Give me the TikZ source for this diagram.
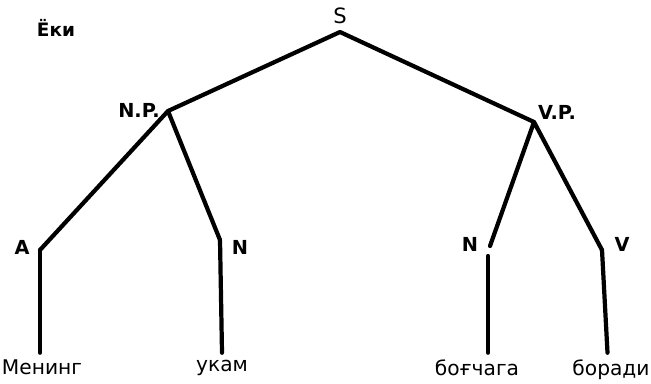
\documentclass[tikz,border=0pt]{standalone}
\usepackage{fontspec}
\setmainfont{DejaVu Sans}
\usetikzlibrary{positioning}

\begin{document}
\begin{tikzpicture}[
        x=0.02cm, y=-0.02cm,
        branch/.style = {draw, line width=2.4pt, line join=round, line cap=round},
        cat_label/.style = {font=\bfseries\fontsize{11}{13}\selectfont, inner sep=1pt},
        word/.style = {font=\fontsize{11.5}{14}\selectfont, inner sep=1pt}
    ]
    \useasboundingbox (0,0) rectangle (651,383);

    % Title
    \node [cat_label, font=\bfseries\fontsize{10.5}{12}\selectfont] (title) at (56,28) {Ёки};

    % Joints of the tree
    \coordinate (s_top) at (340,32);
    \coordinate (np_top) at (168,111);
    \coordinate (vp_top) at (534,122);
    \coordinate (a_top) at (40,250);
    \coordinate (n1_top) at (220,240);
    \coordinate (n2_top) at (490,246);
    \coordinate (n2_low) at (488,256);
    \coordinate (v_top) at (602,250);

    % Category labels
    \node [font=\fontsize{12}{14}\selectfont, inner sep=1pt] (s_lbl) at (340,16) {S};
    \node [cat_label] (np_lbl) at (139,110) {N.P.};
    \node [cat_label] (vp_lbl) at (557,112) {V.P.};
    \node [cat_label] (a_lbl) at (22,247) {A};
    \node [cat_label] (n1_lbl) at (240,247) {N};
    \node [cat_label] (n2_lbl) at (470,244) {N};
    \node [cat_label] (v_lbl) at (622,244) {V};

    % Words
    \node [word, anchor=north] (w_mening) at (42,358) {Менинг};
    \node [word, anchor=north] (w_ukam) at (222,358) {укам};
    \node [word, anchor=north] (w_bogchaga) at (477,358) {боғчага};
    \node [word, anchor=north] (w_boradi) at (611,358) {боради};

    % Branches
    \draw [branch] (np_top) -- (s_top) -- (vp_top);
    \draw [branch] (a_top) -- (np_top) -- (n1_top);
    \draw [branch] (n2_top) -- (vp_top) -- (v_top);
    \draw [branch] (a_top) -- ([yshift=3pt]a_top |- w_mening.north);
    \draw [branch] (n1_top) -- ([yshift=3pt]w_ukam.north);
    \draw [branch] (n2_low) -- ([yshift=3pt]n2_low |- w_bogchaga.north);
    \draw [branch] (v_top) -- ([xshift=-2pt,yshift=3pt]w_boradi.north);

\end{tikzpicture}
\end{document}
